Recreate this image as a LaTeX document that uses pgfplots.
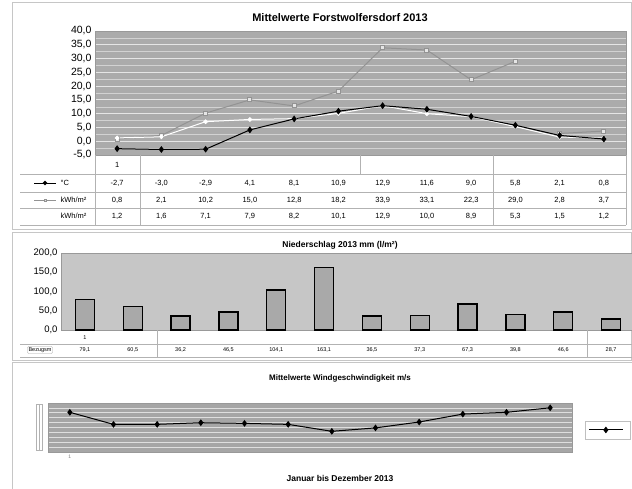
\documentclass[border=0pt]{standalone}
\usepackage{fontspec}
\setmainfont{Liberation Sans}
\usepackage{pgfplots}
\pgfplotsset{compat=1.18}
\usetikzlibrary{shapes.geometric}

\definecolor{bgA}{HTML}{ABABAB}
\definecolor{bgB}{HTML}{C6C6C6}
\definecolor{bgC}{HTML}{A6A6A6}
\definecolor{barG}{HTML}{A9A9A9}
\definecolor{grayS}{HTML}{939393}

\pgfplotsset{
  ticknum/.style={
    /pgf/number format/.cd, fixed, fixed zerofill, precision=1, use comma,
    assume math mode=true},
}

\begin{document}
\begin{tikzpicture}[x=1pt,y=1pt]
\path[use as bounding box] (0,0) rectangle (632,488);
\fill[white] (0,0) rectangle (632,488);

% panel frames
\draw[gray!45] (12,259) rectangle (631.5,486);
\draw[gray!45] (12,128) rectangle (631.5,256);
\draw[gray!45] (12,-1) -- (12,126) -- (640,126);

% ---------- panel 1: temperature / radiation ----------
\begin{axis}[
    at={(95pt,333pt)}, anchor=south west,
    width=531pt, height=124pt, scale only axis,
    xmin=0.5, xmax=12.5, ymin=-5, ymax=40,
    xtick=\empty, ytick distance=5, minor y tick num=1,
    ymajorgrids, yminorgrids,
    major grid style={white!80!gray, line width=0.8pt},
    minor grid style={white!65!gray, line width=0.5pt},
    axis background/.style={fill=bgA},
    axis line style={gray!80},
    tick style={draw=none},
    yticklabel style={font=\fontsize{10.5}{12}\selectfont, ticknum},
    unbounded coords=jump, clip=false,
]
\addplot[color=grayS, line width=1pt, mark=square*, mark size=2pt,
  mark options={fill=gray!20, draw=grayS}]
  coordinates {(1,0.8)(2,2.1)(3,10.2)(4,15.0)(5,12.8)(6,18.2)(7,33.9)(8,33.1)(9,22.3)(10,29.0)(10.5,nan)(11,2.8)(12,3.7)};
\addplot[color=white, line width=1pt, mark=*, mark size=1.8pt]
  coordinates {(1,1.2)(2,1.6)(3,7.1)(4,7.9)(5,8.2)(6,10.1)(7,12.9)(8,10.0)(9,8.9)(10,5.3)(11,1.5)(12,1.2)};
\addplot[color=black, line width=1pt, mark=diamond*, mark size=2.6pt]
  coordinates {(1,-2.7)(2,-3.0)(3,-2.9)(4,4.1)(5,8.1)(6,10.9)(7,12.9)(8,11.6)(9,9.0)(10,5.8)(11,2.1)(12,0.8)};
\end{axis}
\node[font=\bfseries\fontsize{11}{13}\selectfont] at (340,470) {Mittelwerte Forstwolfersdorf 2013};

% data table below panel 1
\begin{scope}[gray!60, line width=0.5pt]
  \foreach \yy in {314,296,280,263} \draw (20,\yy) -- (626,\yy);
  \draw (95,333) -- (95,263);
  \draw (140,333) -- (140,263);
  \draw (360,333) -- (360,314);
  \draw (493,333) -- (493,263);
  \draw (626,333) -- (626,263);
\end{scope}
\begin{scope}[font=\fontsize{7.5}{9}\selectfont]
  \node at (117.1,323) {1};
  \foreach \v [count=\i] in {{-2,7},{-3,0},{-2,9},{4,1},{8,1},{10,9},{12,9},{11,6},{9,0},{5,8},{2,1},{0,8}}
    {\pgfmathsetmacro\xx{95+44.25*(\i-0.5)}\node at (\xx,305) {\v};}
  \foreach \v [count=\i] in {{0,8},{2,1},{10,2},{15,0},{12,8},{18,2},{33,9},{33,1},{22,3},{29,0},{2,8},{3,7}}
    {\pgfmathsetmacro\xx{95+44.25*(\i-0.5)}\node at (\xx,288) {\v};}
  \foreach \v [count=\i] in {{1,2},{1,6},{7,1},{7,9},{8,2},{10,1},{12,9},{10,0},{8,9},{5,3},{1,5},{1,2}}
    {\pgfmathsetmacro\xx{95+44.25*(\i-0.5)}\node at (\xx,272) {\v};}
  \draw[black, line width=0.8pt] (34,305) -- (56,305);
  \node[diamond, fill=black, inner sep=1.2pt] at (45,305) {};
  \node[anchor=west] at (57,305) {°C};
  \draw[grayS, line width=0.8pt] (34,288) -- (56,288);
  \node[rectangle, fill=gray!20, draw=grayS, inner sep=1.1pt] at (45,288) {};
  \node[anchor=west] at (57,288) {kWh/m²};
  \node[anchor=west] at (57,272) {kWh/m²};
\end{scope}

% ---------- panel 2: precipitation ----------
\begin{axis}[
    at={(61pt,158pt)}, anchor=south west,
    width=574pt, height=77pt, scale only axis,
    xmin=-0.5, xmax=11.5, ymin=0, ymax=200,
    xtick=\empty, ytick distance=50,
    ybar, bar width=19pt,
    axis background/.style={fill=bgB},
    axis line style={gray!80},
    tick style={draw=none},
    yticklabel style={font=\fontsize{9.5}{11}\selectfont, ticknum},
]
\addplot[fill=barG, draw=black, line width=1.3pt]
  coordinates {(0,79.1)(1,60.5)(2,36.2)(3,46.5)(4,104.1)(5,163.1)(6,36.5)(7,37.3)(8,67.3)(9,39.8)(10,46.6)(11,28.7)};
\end{axis}
\node[font=\bfseries\fontsize{8.5}{10}\selectfont] at (340,243) {Niederschlag 2013 mm (l/m²)};

\begin{scope}[gray!60, line width=0.5pt]
  \draw (20,144) -- (632,144);
  \draw (20,131) -- (632,131);
  \draw (157,158) -- (157,131);
  \draw (587,158) -- (587,131);
\end{scope}
\begin{scope}[font=\fontsize{5.5}{7}\selectfont]
  \node at (85,150) {1};
  \node[draw=gray!70, rounded corners=1pt, inner sep=1pt] at (40,138) {Bezugsm};
  \foreach \v [count=\i] in {{79,1},{60,5},{36,2},{46,5},{104,1},{163,1},{36,5},{37,3},{67,3},{39,8},{46,6},{28,7}}
    {\pgfmathsetmacro\xx{61+47.83*(\i-0.5)}\node at (\xx,138) {\v};}
\end{scope}

% ---------- panel 3: wind ----------
\draw[gray!60] (36,38) rectangle (42,84);
\draw[gray!60] (39,38) -- (39,84);
\begin{axis}[
    at={(48pt,36pt)}, anchor=south west,
    width=524pt, height=49pt, scale only axis,
    xmin=0.5, xmax=12.5, ymin=0, ymax=5,
    xtick={1}, xticklabels={1},
    xticklabel style={font=\fontsize{5}{6}\selectfont, gray},
    ytick={0,0.5,...,5}, yticklabels={},
    ymajorgrids,
    major grid style={white!75!gray, line width=0.6pt},
    axis background/.style={fill=bgC},
    axis line style={gray!80},
    tick style={draw=none},
    legend style={at={(1.025,0.45)}, anchor=west, draw=gray!50, fill=white,
      inner xsep=3pt, inner ysep=4pt, font=\fontsize{5}{6}\selectfont},
    legend image code/.code={
      \draw[mark repeat=2, mark phase=2, #1] plot coordinates {(0cm,0cm) (0.6cm,0cm) (1.2cm,0cm)};},
]
\addplot[color=black, line width=1pt, mark=diamond*, mark size=2.6pt]
  coordinates {(1,4.05)(2,2.82)(3,2.82)(4,2.99)(5,2.92)(6,2.82)(7,2.11)(8,2.46)(9,3.06)(10,3.87)(11,4.05)(12,4.51)};
\addlegendentry{\strut}
\end{axis}
\node[font=\bfseries\fontsize{8}{10}\selectfont] at (340,110) {Mittelwerte Windgeschwindigkeit m/s};
\node[font=\bfseries\fontsize{8.5}{10}\selectfont] at (340,10) {Januar bis Dezember 2013};
\end{tikzpicture}
\end{document}
